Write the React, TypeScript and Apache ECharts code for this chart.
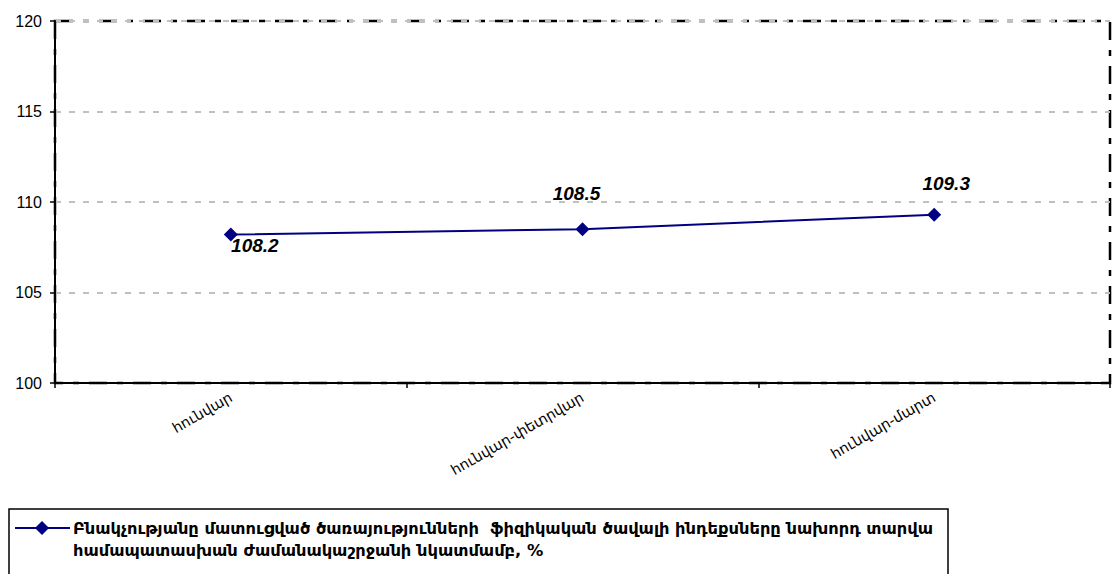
import React, { useEffect, useRef } from "react";
import * as echarts from "echarts";

const categories = ["հունվար", "հունվար-փետրվար", "հունվար-մարտ"];
const values = [108.2, 108.5, 109.3];
const seriesName =
  "Բնակչությանը մատուցված ծառայությունների  ֆիզիկական ծավալի ինդեքսները նախորդ տարվա համապատասխան ժամանակաշրջանի նկատմամբ, %";
const legendLine1 = "Բնակչությանը մատուցված ծառայությունների  ֆիզիկական ծավալի ինդեքսները նախորդ տարվա";
const legendLine2 = "համապատասխան ժամանակաշրջանի նկատմամբ, %";
const labelOffsets: [number, number][] = [
  [24, 11],
  [-6, -36],
  [12, -31],
];

const NAVY = "#000080";
const FONT = "'Liberation Sans', 'DejaVu Sans', Arial, sans-serif";
const ARM_FONT = "'DejaVu Sans', 'Liberation Sans', sans-serif";

export default function App() {
  const ref = useRef<HTMLDivElement>(null);
  useEffect(() => {
    if (!ref.current) return;
    document.body.style.margin = "0";
    document.body.style.overflow = "hidden";
    const chart = echarts.init(ref.current, undefined, { renderer: "svg" });
    chart.setOption({
      animation: false,
      backgroundColor: "#fff",
      textStyle: { fontFamily: FONT },
      grid: {
        left: 55,
        right: 2,
        top: 21,
        bottom: 191,
        show: true,
        borderColor: "#000",
        borderWidth: 2.5,
        borderType: [18, 10, 6, 10],
      },
      xAxis: {
        type: "category",
        data: categories,
        boundaryGap: true,
        axisLine: { lineStyle: { color: "#000", width: 2 } },
        axisTick: { show: true, length: 5, lineStyle: { color: "#000", width: 1.5 } },
        axisLabel: {
          rotate: 30,
          color: "#000",
          fontSize: 14.5,
          fontFamily: ARM_FONT,
          margin: 13,
        },
        splitLine: { show: false },
      },
      yAxis: {
        type: "value",
        min: 100,
        max: 120,
        interval: 5,
        axisLine: { show: true, lineStyle: { color: "#000", width: 2 } },
        axisTick: { show: true, length: 5, lineStyle: { color: "#000", width: 1.5 } },
        axisLabel: { color: "#000", fontSize: 16, fontFamily: FONT, margin: 13 },
        splitLine: {
          show: true,
          lineStyle: { color: "#c0c0c0", width: 2, type: [6, 8] },
        },
      },
      series: [
        {
          name: seriesName,
          type: "line",
          data: values.map((v, i) => ({
            value: v,
            label: { offset: labelOffsets[i] },
          })),
          symbol: "diamond",
          symbolSize: 14,
          lineStyle: { color: NAVY, width: 2 },
          itemStyle: { color: NAVY },
          label: {
            show: true,
            position: "inside",
            color: "#000",
            fontSize: 19,
            fontWeight: "bold",
            fontStyle: "italic",
            fontFamily: FONT,
            formatter: (p: any) => p.value.toFixed(1),
          },
        },
      ],
      graphic: [
        {
          type: "rect",
          shape: { x: 9, y: 509, width: 939, height: 80 },
          style: { fill: "#fff", stroke: "#000", lineWidth: 1.5 },
          silent: true,
        },
        {
          type: "line",
          shape: { x1: 15, y1: 528, x2: 70, y2: 528 },
          style: { stroke: NAVY, lineWidth: 2 },
        },
        {
          type: "polygon",
          shape: { points: [[42, 521], [49, 528], [42, 535], [35, 528]] },
          style: { fill: NAVY },
        },
        {
          type: "text",
          x: 73,
          y: 528,
          style: {
            text: legendLine1,
            font: `bold 16.3px ${ARM_FONT}`,
            fill: "#000",
            verticalAlign: "middle",
          },
        },
        {
          type: "text",
          x: 73,
          y: 550,
          style: {
            text: legendLine2,
            font: `bold 16.3px ${ARM_FONT}`,
            fill: "#000",
            verticalAlign: "middle",
          },
        },
      ],
    });
    return () => chart.dispose();
  }, []);
  return (
    <div
      ref={ref}
      style={{ position: "absolute", left: 0, top: 0, width: 1112, height: 574 }}
    />
  );
}
